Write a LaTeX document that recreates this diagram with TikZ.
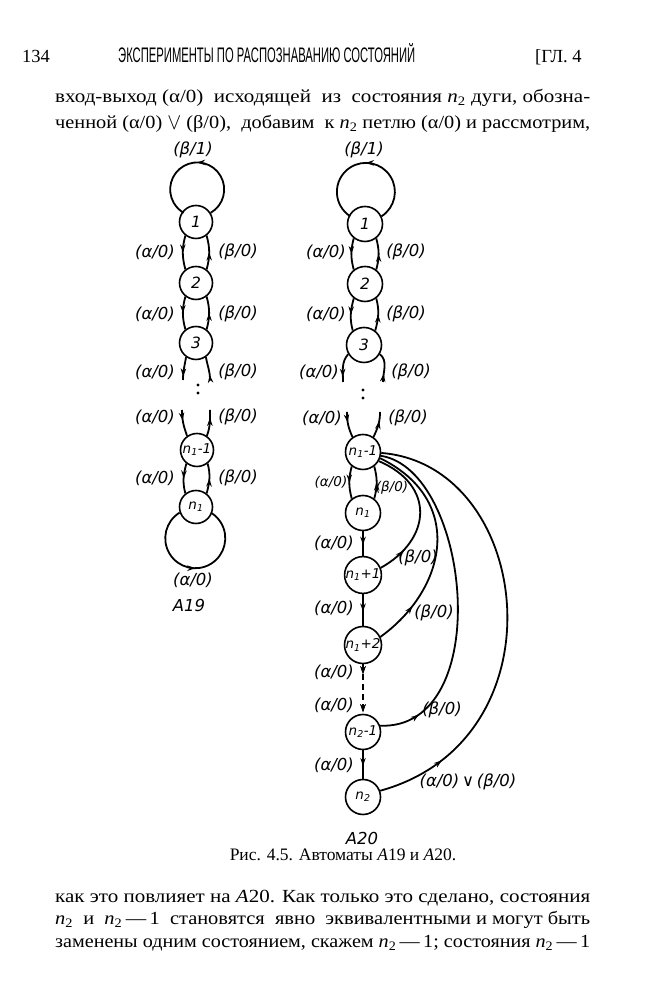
\documentclass[tikz,border=0pt]{standalone}
\usepackage{fontspec}
\usepackage{graphicx}
\setmainfont{Liberation Serif}
\setsansfont{Liberation Sans}
\newfontfamily\lblf{DejaVu Sans}
\usetikzlibrary{arrows.meta,decorations.markings}
\tikzset{
  st/.style={circle, draw, line width=1.6pt, minimum size=33pt, inner sep=0pt, fill=white,
    font=\lblf\itshape\fontsize{15.5}{15.5}\selectfont},
  stb/.style={st, minimum size=35pt},
  sm/.style={font=\lblf\itshape\fontsize{13.5}{13.5}\selectfont},
  lab/.style={font=\lblf\itshape\fontsize{16.5}{16.5}\selectfont, inner sep=0pt},
  labs/.style={font=\lblf\itshape\fontsize{13.5}{13.5}\selectfont, inner sep=0pt},
  ln/.style={line width=1.8pt},
  tipat/.style={postaction={decorate}, decoration={markings,
     mark=at position #1 with {\arrow{Stealth[length=8pt,width=5.5pt]}}}},
  body/.style={anchor=base west, inner sep=0pt, font=\fontsize{18.5}{18.5}\selectfont},
  dotf/.style={fill=black},
}
\newcommand{\nn}[1]{\textit{n}\textsubscript{#1}}
\newcommand{\bigor}{\raisebox{-0.5pt}{\scalebox{1.1}[1.35]{$\vee$}}}
\begin{document}
\begin{tikzpicture}[x=1pt,y=1pt]
\useasboundingbox (0,0) rectangle (650,1000);
\fill[white] (0,0) rectangle (650,1000);

% ---------- page text ----------
\node[body] (pgno) at (22,937) {134};
\node[anchor=base west, inner sep=0pt] (head) at (118,937)
  {\resizebox{297pt}{19pt}{\sffamily\fontsize{15}{15}\selectfont ЭКСПЕРИМЕНТЫ ПО РАСПОЗНАВАНИЮ СОСТОЯНИЙ}};
\node[body] (chap) at (535,937) {[ГЛ.\ 4};

\node[body] (t1) at (55,897) {\resizebox{535pt}{\height}{вход-выход (α/0) \ исходящей \ из \ состояния \nn{2} дуги, обозна-}};
\node[body] (t2) at (55,871) {\resizebox{535pt}{\height}{ченной (α/0) \bigor\ (β/0), \ добавим \ к \nn{2} петлю (α/0) и рассмотрим,}};

\node[anchor=base, inner sep=0pt, font=\fontsize{17.5}{17.5}\selectfont] (cap) at (343,139)
  {Рис. 4.5. Автоматы \textit{A}19 и \textit{A}20.};

\node[body] (b1t) at (55,97) {\resizebox{535pt}{\height}{как это повлияет на \textit{A}20. Как только это сделано, состояния}};
\node[body] (b2t) at (55,75) {\resizebox{535pt}{\height}{\nn{2} \ и \ \nn{2}\,—\,1 \ становятся \ явно \ эквивалентными и могут быть}};
\node[body] (b3t) at (55,52) {\resizebox{535pt}{\height}{заменены одним состоянием, скажем \nn{2}\,—\,1; состояния \nn{2}\,—\,1}};

% ---------- automaton A19 ----------
\node[st] (a1) at (196,778) {1};
\node[st] (a2) at (196,717) {2};
\node[st] (a3) at (196,657) {3};
\node[st, sm] (a4) at (197,550) {\nn{1}-1};
\node[st, sm] (a5) at (196,493) {\nn{1}};

\draw[ln, tipat=0.5] (a1.32.5) arc[start angle=-60, end angle=240, radius=27];
\draw[ln, tipat=0.5] (a5.199.1) arc[start angle=121.4, end angle=418.6, radius=30];

\draw[ln, tipat=0.5] (a1.232) to[out=255, in=105] (a2.128);
\draw[ln, tipat=0.5] (a2.52) to[out=75, in=285] (a1.308);
\draw[ln, tipat=0.5] (a2.232) to[out=255, in=105] (a3.128);
\draw[ln, tipat=0.5] (a3.52) to[out=75, in=285] (a2.308);
\draw[ln, tipat=0.5] (a4.232) to[out=255, in=105] (a5.128);
\draw[ln, tipat=0.5] (a5.52) to[out=75, in=285] (a4.308);

\coordinate (a3l) at (183,620);
\coordinate (a3r) at (210,620);
\draw[ln, tipat=0.85] (a3.235) to[out=260, in=90] (a3l);
\draw[ln, tipat=0.22] (a3r) to[out=90, in=280] (a3.305);
\coordinate (a4l) at (182,590);
\coordinate (a4r) at (210,590);
\draw[ln, tipat=0.4] (a4l) to[out=-90, in=110] (a4.125);
\draw[ln, tipat=0.7] (a4.55) to[out=70, in=-90] (a4r);
\fill[dotf] (198,615) circle (1.7) (198,607) circle (1.7);

\node[lab] (la0) at (193,850) {(β/1)};
\node[lab] (la1) at (155,748) {(α/0)};
\node[lab] (la2) at (238,748) {(β/0)};
\node[lab] (la3) at (155,686) {(α/0)};
\node[lab] (la4) at (238,686) {(β/0)};
\node[lab] (la5) at (155,628) {(α/0)};
\node[lab] (la6) at (238,628) {(β/0)};
\node[lab] (la7) at (155,583) {(α/0)};
\node[lab] (la8) at (238,583) {(β/0)};
\node[lab] (la9) at (155,522) {(α/0)};
\node[lab] (la10) at (238,522) {(β/0)};
\node[lab] (la11) at (193,420) {(α/0)};
\node[lab] (nameA) at (189,394) {A19};

% ---------- automaton A20 ----------
\node[stb] (b1) at (365,776) {1};
\node[stb] (b2) at (365,716) {2};
\node[stb] (b3) at (364,655) {3};
\node[stb, sm] (b4) at (363,548) {\nn{1}-1};
\node[stb, sm] (b5) at (363,487) {\nn{1}};
\node[stb, sm] (b6) at (363,425) {\nn{1}+1};
\node[stb, sm] (b7) at (363,355) {\nn{1}+2};
\node[stb, sm] (b8) at (363,268) {\nn{2}-1};
\node[stb, sm] (b9) at (363,203) {\nn{2}};

\draw[ln, tipat=0.5] (b1.25.8) arc[start angle=-57.2, end angle=237.2, radius=29];

\draw[ln, tipat=0.5] (b1.232) to[out=255, in=105] (b2.128);
\draw[ln, tipat=0.5] (b2.52) to[out=75, in=285] (b1.308);
\draw[ln, tipat=0.5] (b2.232) to[out=255, in=105] (b3.128);
\draw[ln, tipat=0.5] (b3.52) to[out=75, in=285] (b2.308);
\draw[ln, tipat=0.5] (b4.232) to[out=255, in=105] (b5.128);
\draw[ln, tipat=0.5] (b5.52) to[out=75, in=285] (b4.308);

\coordinate (b3l) at (343,618);
\coordinate (b3r) at (383,618);
\draw[ln, tipat=0.82] (b3.210) to[out=230, in=90] (b3l);
\draw[ln, tipat=0.28] (b3r) to[out=90, in=320] (b3.330);
\coordinate (b4l) at (347,588);
\coordinate (b4r) at (380,588);
\draw[ln, tipat=0.4] (b4l) to[out=-90, in=115] (b4.125);
\draw[ln, tipat=0.65] (b4.55) to[out=65, in=-90] (b4r);
\fill[dotf] (363,610) circle (1.7) (363,602) circle (1.7);

\draw[ln, tipat=0.55] (b5) -- (b6);
\draw[ln, tipat=0.55] (b6) -- (b7);
\draw[ln, dash pattern=on 6pt off 4pt, tipat=0.2, tipat=0.97] (b7) -- (b8);
\draw[ln, tipat=0.55] (b8) -- (b9);

\draw[ln, tipat=0.2] (b6.22) .. controls +(50.8,28.4) and +(56.8,-24.3) .. (b4.-30);
\draw[ln, tipat=0.2] (b7.25) .. controls +(66,47.6) and +(85.6,-42) .. (b4.-20);
\draw[ln, tipat=0.12] (b8.20) .. controls +(115.6,-4) and +(89.9,-14.4) .. (b4.-12);
\draw[ln, tipat=0.15] (b9.20) .. controls +(185,51) and +(152,-12) .. (b4.-3);

\node[lab] (lb0) at (364,850) {(β/1)};
\node[lab] (lb1) at (326,748) {(α/0)};
\node[lab] (lb2) at (406,748) {(β/0)};
\node[lab] (lb3) at (326,686) {(α/0)};
\node[lab] (lb4) at (406,686) {(β/0)};
\node[lab] (lb5) at (319,628) {(α/0)};
\node[lab] (lb6) at (411,628) {(β/0)};
\node[lab] (lb7) at (322,582) {(α/0)};
\node[lab] (lb8) at (408,582) {(β/0)};
\node[labs] (lb9) at (331,518) {(α/0)};
\node[labs] (lb10) at (392,512) {(β/0)};
\node[lab] (lb11) at (334,457) {(α/0)};
\node[lab] (lb12) at (334,392) {(α/0)};
\node[lab] (lb13) at (334,328) {(α/0)};
\node[lab] (lb14) at (334,295) {(α/0)};
\node[lab] (lb15) at (334,235) {(α/0)};
\node[lab] (lb16) at (418,442) {(β/0)};
\node[lab] (lb17) at (434,387) {(β/0)};
\node[lab] (lb18) at (442,290) {(β/0)};
\node[lab] (lb19) at (468,218) {(α/0)\,∨\,(β/0)};
\node[lab] (nameB) at (362,162) {A20};
\end{tikzpicture}
\end{document}
